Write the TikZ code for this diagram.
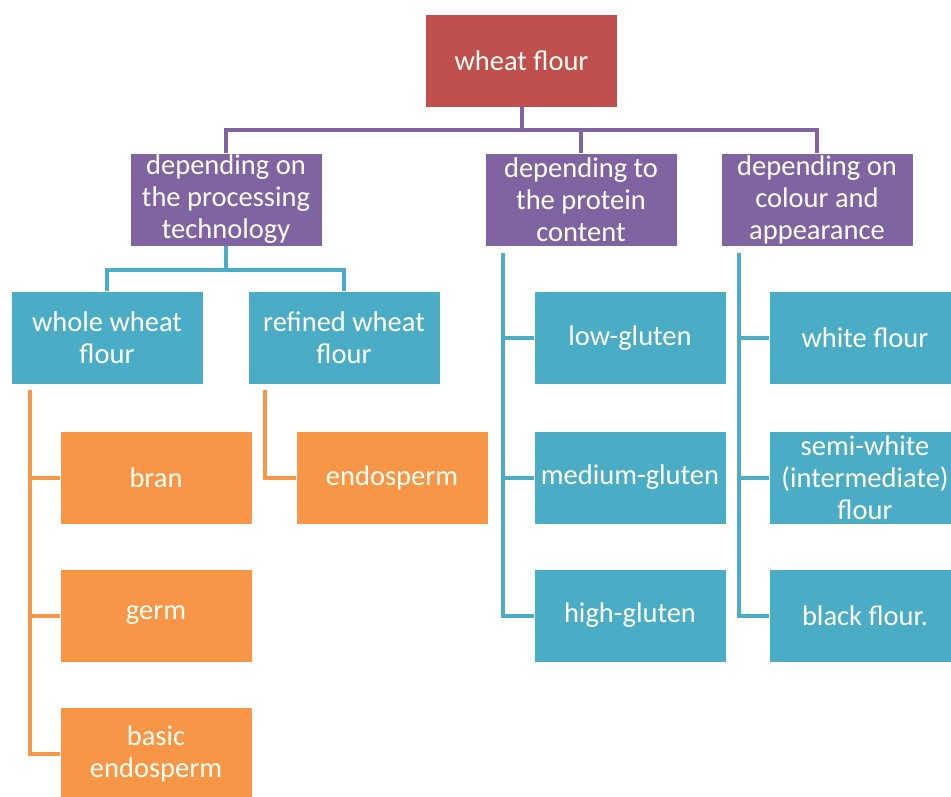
\documentclass[tikz,border=0pt]{standalone}
\usepackage{fontspec}
\setmainfont{Carlito}
\definecolor{cred}{HTML}{C0504D}
\definecolor{cpurple}{HTML}{8064A2}
\definecolor{cteal}{HTML}{4BACC6}
\definecolor{corange}{HTML}{F79646}
\begin{document}
\begin{tikzpicture}[x=1pt,y=-1pt,
  box/.style={rectangle, minimum width=191pt, minimum height=92pt, inner sep=1pt,
    text=white!96!yellow, align=center, font=\fontsize{28.5}{32}\selectfont},
  redbox/.style={box, fill=cred},
  purplebox/.style={box, fill=cpurple},
  tealbox/.style={box, fill=cteal},
  orangebox/.style={box, fill=corange},
  pline/.style={draw=cpurple, line width=4pt},
  tline/.style={draw=cteal, line width=4pt},
  oline/.style={draw=corange, line width=4pt},
]
\useasboundingbox (0,0) rectangle (951,796);
\fill[white] (0,0) rectangle (951,796);

% level 0
\node[redbox] (wf) at (521.5,60.5) {wheat flour};

% level 1
\node[purplebox] (p1) at (226,199.5) {depending on\\the processing\\technology};
\node[purplebox] (p2) at (581,199.5) {depending to\\the protein\\content};
\node[purplebox] (p3) at (817,199.5) {depending on\\colour and\\appearance};

% level 2 (processing)
\node[tealbox] (ww) at (107,337.5) {whole wheat\\flour};
\node[tealbox] (rw) at (344,337.5) {refined wheat\\flour};

% level 3 (whole / refined)
\node[orangebox] (bran) at (156,477.5) {bran};
\node[orangebox] (germ) at (156,615.5) {germ};
\node[orangebox] (basic) at (156,754) {basic\\endosperm};
\node[orangebox] (endo) at (392,477.5) {endosperm};

% protein
\node[tealbox] (low) at (630,338) {low-gluten};
\node[tealbox] (med) at (630,477.5) {medium-gluten};
\node[tealbox] (high) at (630,615.5) {high-gluten};

% colour
\node[tealbox] (white) at (865,338) {white flour};
\node[tealbox] (semi) at (865,477.5) {semi-white\\(intermediate)\\flour};
\node[tealbox] (black) at (865,615.5) {black flour.};

% coordinates for buses
\coordinate (bus0) at (0,130);
\coordinate (bus1) at (0,270);
\coordinate (ov1) at (30,390);
\coordinate (ov2) at (265,390);
\coordinate (tv1) at (503,253);
\coordinate (tv2) at (739,253);

% purple connectors
\draw[pline] (wf.south) -- (wf.south |- bus0);
\draw[pline] (p1.north) -- (p1.north |- bus0) -- (p3.north |- bus0) -- (p3.north);
\draw[pline] (p2.north) -- (p2.north |- bus0);

% teal connectors under processing
\draw[tline] (p1.south) -- (p1.south |- bus1);
\draw[tline] (ww.north) -- (ww.north |- bus1) -- (rw.north |- bus1) -- (rw.north);

% orange connectors
\draw[oline] (ov1) |- (basic.west);
\draw[oline] (bran.west) -- (bran.west -| ov1);
\draw[oline] (germ.west) -- (germ.west -| ov1);
\draw[oline] (ov2) |- (endo.west);

% protein connectors
\draw[tline] (tv1) |- (high.west);
\draw[tline] (low.west) -- (low.west -| tv1);
\draw[tline] (med.west) -- (med.west -| tv1);

% colour connectors
\draw[tline] (tv2) |- (black.west);
\draw[tline] (white.west) -- (white.west -| tv2);
\draw[tline] (semi.west) -- (semi.west -| tv2);
\end{tikzpicture}
\end{document}
